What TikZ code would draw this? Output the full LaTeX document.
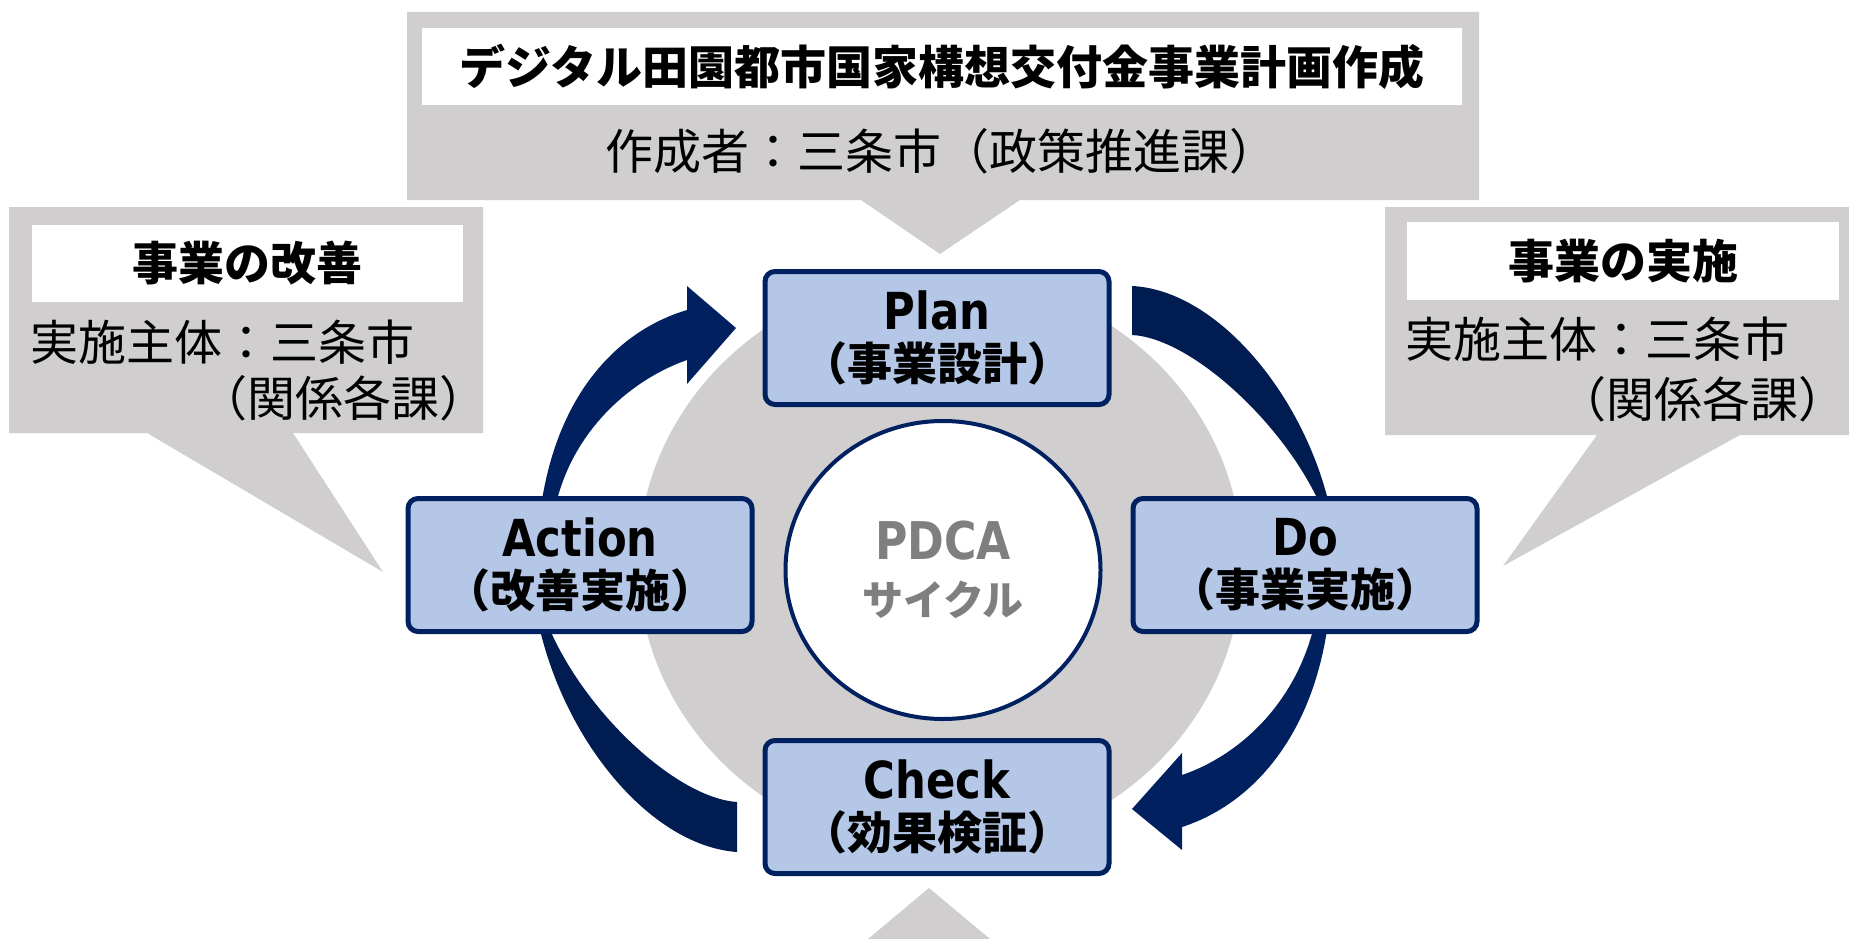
\documentclass[tikz,border=0pt]{standalone}
\usepackage{fontspec}
\usepackage{tikz}
\usetikzlibrary{shapes}
\setmainfont{DejaVu Sans}
\newfontfamily\jpfont{Noto Sans CJK JP}
\newfontfamily\latinfont[FakeStretch=0.85]{DejaVu Sans}
\definecolor{pdcanavy}{HTML}{002060}
\definecolor{pdcadeep}{HTML}{001C50}
\definecolor{pdcagray}{HTML}{D0CECE}
\definecolor{pdcablue}{HTML}{B4C7E7}
\definecolor{pdcatext}{HTML}{7F7F7F}
\newcommand\phasename[2]{{\latinfont\bfseries\fontsize{51}{50}\selectfont #1}\\{\jpfont\bfseries #2}}

\begin{document}
\begin{tikzpicture}[x=1pt, y=-1pt]
	\tikzstyle{phase}=[draw=pdcanavy, line width=5pt, fill=pdcablue, rounded corners=10pt, minimum width=344pt, minimum height=133pt, inner sep=0pt, align=center, font=\fontsize{45}{51}\selectfont]
	\tikzstyle{headbox}=[fill=white, inner sep=0pt, font=\jpfont\bfseries\fontsize{46}{56}\selectfont]
	\tikzstyle{plaintext}=[inner sep=0pt, font=\jpfont\fontsize{48}{56}\selectfont]
	\tikzstyle{bubble}=[fill=pdcagray]
	\tikzstyle{turnarrow}=[fill=pdcanavy]
	\tikzstyle{turnwedge}=[fill=pdcadeep]
	\useasboundingbox (0,0) rectangle (1849,939);
	\fill[bubble] (407,12) -- (1479,12) -- (1479,200) -- (1020,200) -- (940,254) -- (861,200) -- (407,200) -- cycle;
	\fill[bubble] (9,207) -- (483,207) -- (483,433) -- (293,433) -- (383,572) -- (147,433) -- (9,433) -- cycle;
	\fill[bubble] (1385,207) -- (1849,207) -- (1849,435) -- (1740,435) -- (1503,566) -- (1597,435) -- (1385,435) -- cycle;
	\fill[bubble] (868,939) -- (929,888) -- (990,939) -- cycle;
	\fill[bubble] (940,563) ellipse [x radius=302pt, y radius=288pt];
	\node[headbox, minimum width=1040pt, minimum height=77pt] (plantitle) at (942,66.5) {デジタル田園都市国家構想交付金事業計画作成};
	\node[plaintext, anchor=west] (planmaker) at (605,151) {作成者：三条市（政策推進課）};
	\node[headbox, minimum width=431pt, minimum height=77pt] (acttitle) at (247.5,263.5) {事業の改善};
	\node[plaintext, anchor=west] (actowner) at (30,342) {実施主体：三条市};
	\node[plaintext, anchor=west] (actunit) at (199,398) {（関係各課）};
	\node[headbox, minimum width=432pt, minimum height=78pt] (dotitle) at (1623,261) {事業の実施};
	\node[plaintext, anchor=west] (doowner) at (1405,339) {実施主体：三条市};
	\node[plaintext, anchor=east] (dounit) at (1847,399) {（関係各課）};
	\fill[turnarrow] (542,500) .. controls (560,390) and (620,330) .. (687,310) -- (687,286) -- (736,328) -- (687,384) -- (687,360) .. controls (630,380) and (575,430) .. (557,500) -- cycle;
	\fill[turnarrow] (1327,630) .. controls (1310,740) and (1250,805) .. (1182,827) -- (1182,850) -- (1132,809) -- (1182,753) -- (1182,775) .. controls (1238,756) and (1293,706) .. (1313,630) -- cycle;
	\fill[turnwedge] (1132,286) .. controls (1215,290) and (1300,390) .. (1328,500) -- (1318,500) .. controls (1280,420) and (1190,338) .. (1132,335) -- cycle;
	\fill[turnwedge] (737,852) .. controls (653,846) and (568,746) .. (540,630) -- (550,630) .. controls (588,716) and (678,798) .. (737,802) -- cycle;
	\node[phase] (plan) at (937,338) {\phasename{Plan}{（事業設計）}};
	\node[phase] (do) at (1305,565) {\phasename{Do}{（事業実施）}};
	\node[phase] (check) at (937,807) {\phasename{Check}{（効果検証）}};
	\node[phase] (action) at (580,565) {\phasename{Action}{（改善実施）}};
	\node[ellipse, draw=pdcanavy, line width=4pt, fill=white, minimum width=315pt, minimum height=298pt, inner sep=0pt, align=center, text=pdcatext, font=\fontsize{41}{56}\selectfont] (cycle) at (943,570) {{\latinfont\bfseries\fontsize{52}{56}\selectfont PDCA}\\{\jpfont\bfseries サイクル}};
\end{tikzpicture}
\end{document}
